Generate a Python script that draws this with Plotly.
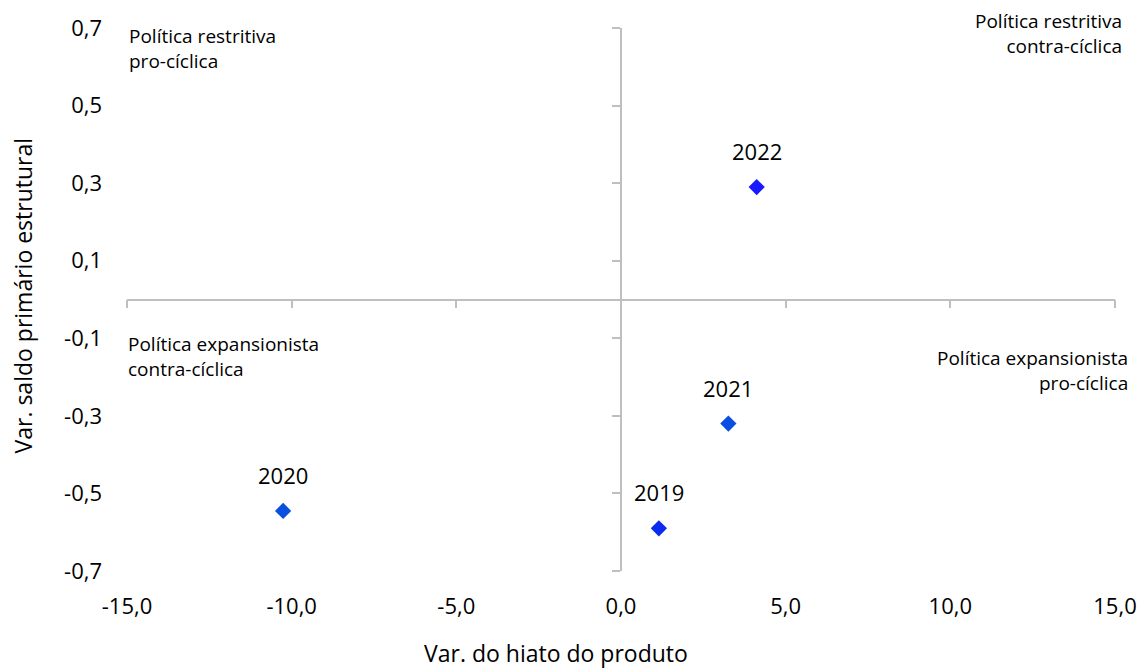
import plotly.graph_objects as go

# Variação do hiato do produto (x) vs. variação do saldo primário estrutural (y)
anos = ["2019", "2020", "2021", "2022"]
var_hiato = [1.15, -10.26, 3.26, 4.12]
var_saldo = [-0.59, -0.545, -0.32, 0.29]
cores = ["#0B2CF0", "#0A50E0", "#0A4FE0", "#1A1AFF"]

x_ticks = [-15, -10, -5, 0, 5, 10, 15]
x_tick_text = ["-15,0", "-10,0", "-5,0", "0,0", "5,0", "10,0", "15,0"]
y_ticks = [-0.7, -0.5, -0.3, -0.1, 0.1, 0.3, 0.5, 0.7]
y_tick_text = ["-0,7", "-0,5", "-0,3", "-0,1", "0,1", "0,3", "0,5", "0,7"]

x_range = [-15, 15]
y_range = [-0.7, 0.7]

FONT = "Open Sans"
AXIS_GRAY = "#BFBFBF"

fig = go.Figure()
fig.add_trace(go.Scatter(
    x=var_hiato, y=var_saldo, mode="markers",
    marker=dict(symbol="diamond", size=12.5, color=cores, line=dict(width=0)),
    hoverinfo="skip", showlegend=False,
))
# Empty trace so the axes crossing at the origin get drawn
fig.add_trace(go.Scatter(x=[], y=[], xaxis="x2", yaxis="y2",
                         hoverinfo="skip", showlegend=False))

# Year labels above each point
for ano, xv, yv in zip(anos, var_hiato, var_saldo):
    fig.add_annotation(x=xv, y=yv, text=ano, showarrow=False, yshift=36,
                       xanchor="center", yanchor="middle",
                       font=dict(family=FONT, size=22, color="#000000"))

# Quadrant descriptions
quadrantes = [
    ("Política restritiva<br>pro-cíclica", -15, 0.7, "left", 0, 7),
    ("Política restritiva<br>contra-cíclica", 15, 0.7, "right", 9, 22),
    ("Política expansionista<br>contra-cíclica", -15, 0.0, "left", -1, -29),
    ("Política expansionista<br>pro-cíclica", 15, 0.0, "right", 15, -43),
]
for txt, xq, yq, al, xs, ys in quadrantes:
    fig.add_annotation(x=xq, y=yq, text=txt, showarrow=False, align=al,
                       xanchor=al, yanchor="top", xshift=xs, yshift=ys,
                       font=dict(family=FONT, size=19, color="#000000"))

# Axis titles
fig.add_annotation(xref="paper", yref="paper", x=0, y=0.5, xshift=-105, yshift=4,
                   text="Var. saldo primário estrutural", textangle=-90,
                   showarrow=False, xanchor="center", yanchor="middle",
                   font=dict(family=FONT, size=23, color="#000000"))
fig.add_annotation(xref="paper", yref="paper", x=0.434, y=0, yshift=-82,
                   text="Var. do hiato do produto",
                   showarrow=False, xanchor="center", yanchor="middle",
                   font=dict(family=FONT, size=23, color="#000000"))

# Axes crossing at the origin
pos_x_axis = (0 - y_range[0]) / (y_range[1] - y_range[0])
pos_y_axis = (0 - x_range[0]) / (x_range[1] - x_range[0])

fig.update_layout(
    width=1140, height=668,
    margin=dict(l=127, r=25, t=28, b=97),
    paper_bgcolor="white", plot_bgcolor="white",
    font=dict(family=FONT, size=22, color="#000000"),
    xaxis=dict(
        range=x_range, tickvals=x_ticks, ticktext=x_tick_text,
        showline=False, ticks="", showgrid=False, zeroline=False,
        ticklabelstandoff=20, tickfont=dict(size=22), automargin=False,
    ),
    yaxis=dict(
        range=y_range, tickvals=y_ticks, ticktext=y_tick_text,
        showline=False, ticks="", showgrid=False, zeroline=False,
        ticklabelstandoff=24, tickfont=dict(size=22), automargin=False,
    ),
    xaxis2=dict(
        overlaying="x", anchor="free", position=pos_x_axis, side="bottom",
        range=x_range, tickvals=x_ticks, showticklabels=False,
        showline=True, linecolor=AXIS_GRAY, linewidth=1.5,
        ticks="outside", ticklen=8, tickwidth=1.5, tickcolor=AXIS_GRAY,
        showgrid=False, zeroline=False, automargin=False,
    ),
    yaxis2=dict(
        overlaying="y", anchor="free", position=pos_y_axis, side="left",
        range=y_range, tickvals=y_ticks, showticklabels=False,
        showline=True, linecolor=AXIS_GRAY, linewidth=1.5,
        ticks="outside", ticklen=8, tickwidth=1.5, tickcolor=AXIS_GRAY,
        showgrid=False, zeroline=False, automargin=False,
    ),
)

fig.write_html("out.html")
